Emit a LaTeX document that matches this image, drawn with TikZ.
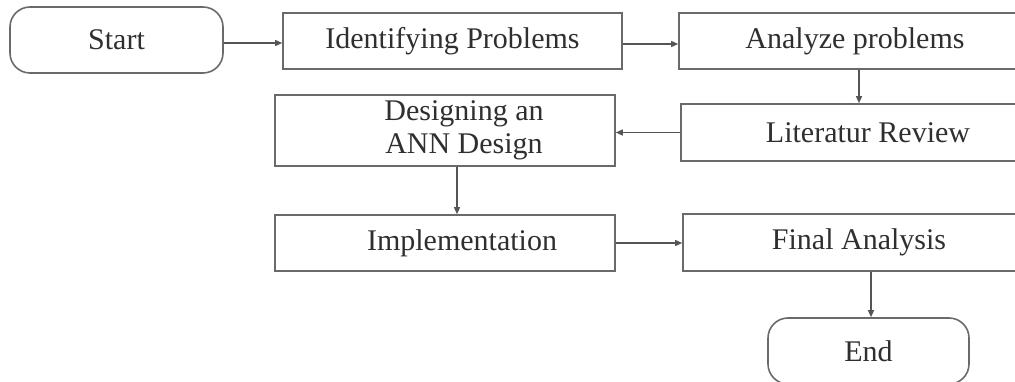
\documentclass[tikz,border=0pt]{standalone}
\usepackage{fontspec}
\setmainfont{Liberation Serif}
\usetikzlibrary{arrows.meta,calc}
\definecolor{boxline}{HTML}{6A6A6A}
\definecolor{ink}{HTML}{2F2F2F}
\tikzset{
  stage/.style={draw=boxline, line width=1.6pt, rectangle, inner sep=0pt,
    text=ink, font=\fontsize{30}{33}\selectfont, align=center},
  terminal/.style={stage, rounded corners=20pt},
  flow/.style={draw=boxline!80!black, line width=1.3pt,
    -{Triangle[length=7pt,width=6pt]}},
}
\begin{document}
\begin{tikzpicture}[x=1pt,y=-1pt]
\useasboundingbox (0,0) rectangle (1015,382);
\clip (0,0) rectangle (1015,382);

% process stages
\node[terminal, minimum width=213pt, minimum height=66pt] (start) at (116.5,40) {Start};
\node[stage, minimum width=339pt, minimum height=56pt] (ident) at (452.5,41) {Identifying Problems};
\node[stage, minimum width=352pt, minimum height=56pt] (anal) at (855,41) {Analyze problems};
\node[stage, minimum width=374pt, minimum height=57pt] (lit) at (868,132.5) {Literatur Review};
\node[stage, minimum width=340pt, minimum height=71pt,
      label={[stage, draw=none, xshift=19pt]center:Designing an\\ANN Design}] (dsg) at (445,130.5) {};
\node[stage, minimum width=340pt, minimum height=56pt,
      label={[stage, draw=none, xshift=17pt]center:Implementation}] (impl) at (445,243) {};
\node[stage, minimum width=352pt, minimum height=57pt] (fin) at (859,242.5) {Final Analysis};
\node[terminal, minimum width=201pt, minimum height=66pt] (end) at (868.5,351) {End};

% connectors
\draw[flow] ([yshift=-3pt]start.east) -- ([yshift=-3pt]start.east -| ident.west);
\draw[flow] ([yshift=-3pt]ident.east) -- ([yshift=-3pt]ident.east -| anal.west);
\draw[flow] ([xshift=4pt]anal.south) -- ([xshift=4pt]anal.south |- lit.north);
\draw[flow] (lit.west) -- (lit.west -| dsg.east);
\draw[flow] ([xshift=12pt]dsg.south) -- ([xshift=12pt]dsg.south |- impl.north);
\draw[flow] (impl.east) -- (impl.east -| fin.west);
\draw[flow] ([xshift=12pt]fin.south) -- ([xshift=12pt]fin.south |- end.north);
\end{tikzpicture}
\end{document}
